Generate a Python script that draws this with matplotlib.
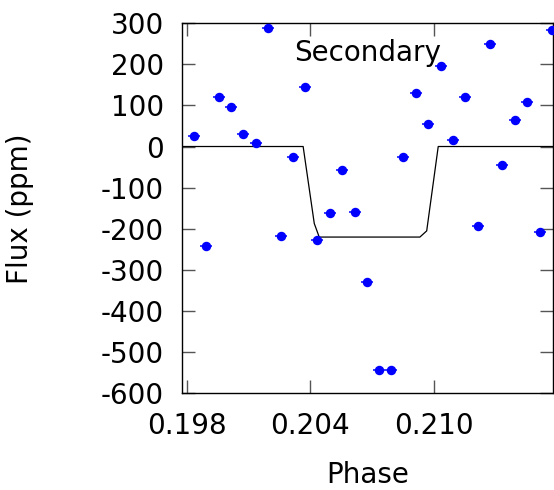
import matplotlib
matplotlib.use("Agg")
import matplotlib.pyplot as plt

plt.rcParams["axes.unicode_minus"] = False

# Data
phase = [0.19835, 0.19894, 0.19957, 0.20015, 0.20074, 0.20137, 0.20195, 0.20258,
         0.20316, 0.20375, 0.20433, 0.20496, 0.20554, 0.20617, 0.20675, 0.20734,
         0.20793, 0.20851, 0.20914, 0.20972, 0.21035, 0.21094, 0.21152, 0.21215,
         0.21273, 0.21331, 0.21395, 0.21453, 0.21516, 0.21574]
flux = [26, -241, 120, 95, 30, 8, 287, -217,
        -26, 144, -228, -162, -57, -158, -328, -542,
        -544, -26, 129, 54, 195, 15, 120, -194,
        248, -44, 64, 107, -208, 283]
phase_err = [0.00028] * len(phase)

model_phase = [0.1978, 0.20366, 0.20420, 0.20444, 0.20933, 0.20966, 0.21022, 0.2158]
model_flux = [0, 0, -187, -220, -220, -205, 0, 0]

xticks = [0.198, 0.204, 0.210]
xtick_labels = ["0.198", "0.204", "0.210"]
yticks = [-600, -500, -400, -300, -200, -100, 0, 100, 200, 300]

fig = plt.figure(figsize=(5.54, 4.9), dpi=100)
ax = fig.add_axes([0.329, 0.197, 0.6687, 0.756])

ax.plot(model_phase, model_flux, color="black", lw=0.9, zorder=2)
ax.errorbar(phase, flux, xerr=phase_err, fmt="o", color="#0000ff", ms=5.8,
            elinewidth=1.1, capsize=0, zorder=3, clip_on=False)

ax.set_xlim(0.19779, 0.21578)
ax.set_ylim(-600, 300)
ax.set_xticks(xticks)
ax.set_xticklabels(xtick_labels)
ax.set_yticks(yticks)
ax.tick_params(direction="in", length=9.5, width=1, colors="#555555",
               labelcolor="black", labelsize=20, pad=13,
               top=True, right=True)
for s in ax.spines.values():
    s.set_color("black")
    s.set_linewidth(1)

ax.text(0.5, 0.92, "Secondary", transform=ax.transAxes, ha="center",
        va="center", fontsize=20)
ax.set_xlabel("Phase", fontsize=20)
ax.set_ylabel("Flux (ppm)", fontsize=20)
ax.xaxis.label.set_verticalalignment("center")
ax.yaxis.label.set_verticalalignment("center")
ax.xaxis.set_label_coords(0.5, -0.2206)
ax.yaxis.set_label_coords(-0.438, 0.5)

fig.savefig("out.png", dpi=100)
